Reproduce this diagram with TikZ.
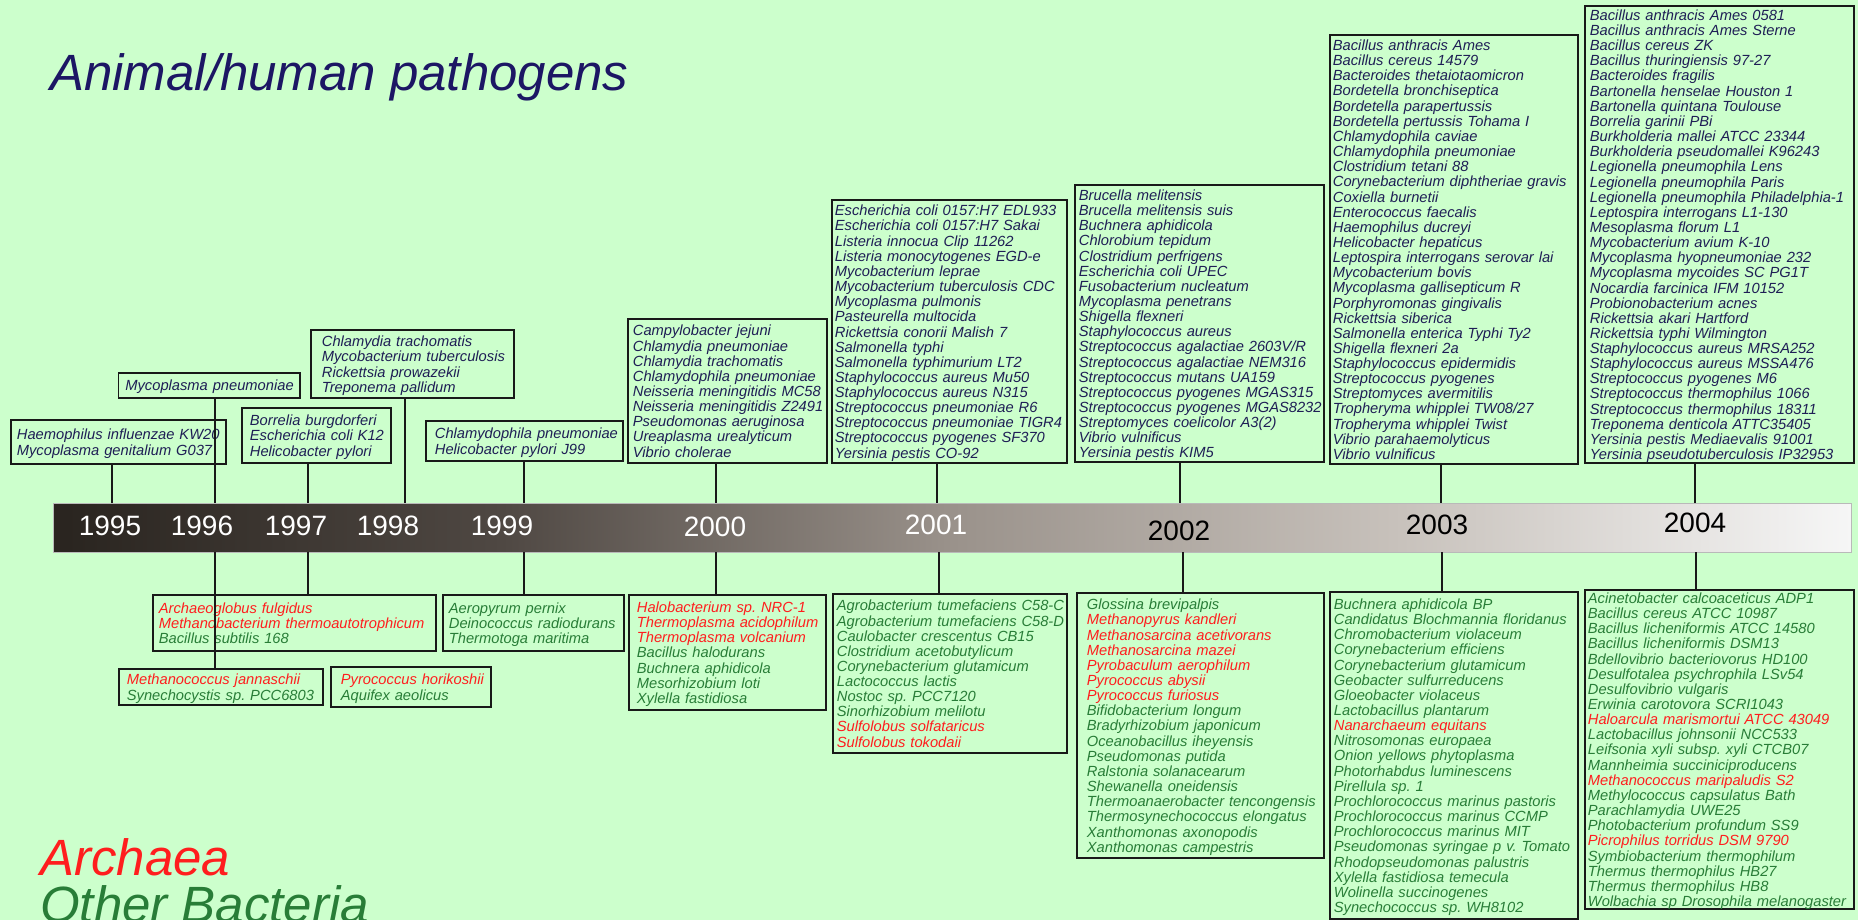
\documentclass[tikz,border=0pt]{standalone}
\usepackage{fontspec}
\setmainfont{Liberation Sans}
\definecolor{bg}{HTML}{CCFFCC}
\definecolor{navy}{RGB}{30,30,85}
\definecolor{titlenavy}{RGB}{28,22,100}
\definecolor{archred}{RGB}{255,30,30}
\definecolor{bactgreen}{RGB}{40,125,55}
\definecolor{bc0}{HTML}{29241F}
\definecolor{bc1}{HTML}{4F4843}
\definecolor{bc2}{HTML}{9A928B}
\definecolor{bc3}{HTML}{C8C2BC}
\definecolor{bc4}{HTML}{F6F6F6}
\pgfdeclarehorizontalshading{barshade}{100bp}{color(0bp)=(bc0); color(25bp)=(bc0); color(37.5bp)=(bc1); color(50bp)=(bc2); color(62.5bp)=(bc3); color(75bp)=(bc4); color(100bp)=(bc4)}
\newcommand\boxfont{\fontsize{14.7}{15}\selectfont\itshape\frenchspacing}
\newcommand\RA{\color{archred}}
\newcommand\gbx[8]{%
  \pgfmathsetmacro\gbxtw{#4-2*#6}%
  \node[gbox, text=#7, minimum width=#4pt, minimum height=#5pt, text width=\gbxtw pt, inner xsep=#6pt] (#1) at (#2,#3) {\raisebox{-2.5pt}[\height][\depth]{\begin{tabular}{@{}l@{}}#8\end{tabular}}};}
\begin{document}
\begin{tikzpicture}[x=1pt,y=-1pt,
  gbox/.style={draw=black!90, line width=1.8pt, fill=bg, anchor=north west, inner ysep=0pt, align=left, font=\boxfont},
  conn/.style={draw=black!90, line width=1.8pt},
  yr/.style={font=\fontsize{28}{30}\selectfont, inner sep=0pt},
  big/.style={font=\fontsize{51}{51}\selectfont\itshape, inner sep=0pt, anchor=base west}]
\fill[bg] (0,0) rectangle (1858,920);
\useasboundingbox (0,0) rectangle (1858,920);

\node[big, text=titlenavy] (title) at (50,91) {Animal/human pathogens};
\node[big, text=archred] (leg1) at (40,875) {Archaea};
\node[big, text=bactgreen] (leg2) at (40,922) {Other Bacteria};

% timeline bar
\node[shade, shading=barshade, draw=gray!55, line width=0.8pt, anchor=north west, minimum width=1798pt, minimum height=49pt, inner sep=0pt] (bar) at (53,503) {};

\node[yr, text=white] (l1995) at (110,526) {1995};
\node[yr, text=white] (l1996) at (202,526) {1996};
\node[yr, text=white] (l1997) at (296,526) {1997};
\node[yr, text=white] (l1998) at (388,526) {1998};
\node[yr, text=white] (l1999) at (502,526) {1999};
\node[yr, text=white] (l2000) at (715,527) {2000};
\node[yr, text=white] (l2001) at (936,525) {2001};
\node[yr, text=black] (l2002) at (1179,531) {2002};
\node[yr, text=black] (l2003) at (1437,525) {2003};
\node[yr, text=black] (l2004) at (1695,523) {2004};

% connector points on the bar
\coordinate (u1995) at (112,503);
\coordinate (u1996) at (215,503);
\coordinate (u1997) at (308,503);
\coordinate (u1998) at (405,503);
\coordinate (u1999) at (524,503);
\coordinate (u2000) at (716,503);
\coordinate (u2001) at (937,503);
\coordinate (u2002) at (1180,503);
\coordinate (u2003) at (1441,503);
\coordinate (u2004) at (1695,503);
\coordinate (d1996) at (215,552);
\coordinate (d1997) at (308,552);
\coordinate (d1999) at (524,552);
\coordinate (d2000) at (716,552);
\coordinate (d2001) at (939,552);
\coordinate (d2002) at (1183,552);
\coordinate (d2003) at (1442,552);
\coordinate (d2004) at (1696,552);

% pathogen boxes (top)
\gbx{b1995t}{10}{419}{215}{44}{6}{navy}{Haemophilus influenzae KW20\\Mycoplasma genitalium G037}
\gbx{b1996t}{117.5}{372}{181.5}{25}{7}{navy}{Mycoplasma pneumoniae}
\gbx{b1997t}{241}{407}{149}{55}{8}{navy}{Borrelia burgdorferi\\Escherichia coli K12\\Helicobacter pylori}
\gbx{b1998t}{310}{329}{203}{68}{11}{navy}{Chlamydia trachomatis\\Mycobacterium tuberculosis\\Rickettsia prowazekii\\Treponema pallidum}
\gbx{b1999t}{425}{420}{197}{40}{9}{navy}{Chlamydophila pneumoniae\\Helicobacter pylori J99}
\gbx{b2000t}{627}{318}{199}{144}{5}{navy}{Campylobacter jejuni\\Chlamydia pneumoniae\\Chlamydia trachomatis\\Chlamydophila pneumoniae\\Neisseria meningitidis MC58\\Neisseria meningitidis Z2491\\Pseudomonas aeruginosa\\Ureaplasma urealyticum\\Vibrio cholerae}
\gbx{b2001t}{831}{199}{235}{263}{3}{navy}{Escherichia coli 0157:H7 EDL933\\Escherichia coli 0157:H7 Sakai\\Listeria innocua Clip 11262\\Listeria monocytogenes EGD-e\\Mycobacterium leprae\\Mycobacterium tuberculosis CDC\\Mycoplasma pulmonis\\Pasteurella multocida\\Rickettsia conorii Malish 7\\Salmonella typhi\\Salmonella typhimurium  LT2\\Staphylococcus aureus Mu50\\Staphylococcus aureus N315\\Streptococcus pneumoniae R6\\Streptococcus pneumoniae TIGR4\\Streptococcus pyogenes SF370\\Yersinia pestis CO-92}
\gbx{b2002t}{1074}{184}{249}{277}{4}{navy}{Brucella melitensis\\Brucella melitensis suis\\Buchnera aphidicola\\Chlorobium tepidum\\Clostridium perfrigens\\Escherichia coli UPEC\\Fusobacterium nucleatum\\Mycoplasma penetrans\\Shigella flexneri\\Staphylococcus aureus\\Streptococcus agalactiae 2603V/R\\Streptococcus agalactiae NEM316\\Streptococcus mutans UA159\\Streptococcus pyogenes MGAS315\\Streptococcus pyogenes MGAS8232\\Streptomyces coelicolor  A3(2)\\Vibrio vulnificus\\Yersinia pestis KIM5}
\gbx{b2003t}{1329}{34}{248}{429}{3}{navy}{Bacillus anthracis Ames\\Bacillus cereus 14579\\Bacteroides thetaiotaomicron\\Bordetella bronchiseptica\\Bordetella parapertussis\\Bordetella pertussis  Tohama I\\Chlamydophila caviae\\Chlamydophila pneumoniae\\Clostridium tetani 88\\Corynebacterium diphtheriae gravis\\Coxiella burnetii\\Enterococcus faecalis\\Haemophilus ducreyi\\Helicobacter hepaticus\\Leptospira interrogans serovar lai\\Mycobacterium bovis\\Mycoplasma gallisepticum R\\Porphyromonas gingivalis\\Rickettsia siberica\\Salmonella enterica  Typhi Ty2\\Shigella flexneri 2a\\Staphylococcus epidermidis\\Streptococcus pyogenes\\Streptomyces avermitilis\\Tropheryma whipplei TW08/27\\Tropheryma whipplei Twist\\Vibrio parahaemolyticus\\Vibrio vulnificus}
\gbx{b2004t}{1584}{5}{269}{457}{5}{navy}{Bacillus anthracis Ames 0581\\Bacillus anthracis  Ames Sterne\\Bacillus cereus ZK\\Bacillus thuringiensis 97-27\\Bacteroides fragilis\\Bartonella henselae Houston 1\\Bartonella quintana Toulouse\\Borrelia garinii PBi\\Burkholderia mallei ATCC 23344\\Burkholderia pseudomallei K96243\\Legionella pneumophila Lens\\Legionella pneumophila Paris\\Legionella pneumophila Philadelphia-1\\Leptospira interrogans L1-130\\Mesoplasma florum L1\\Mycobacterium avium K-10\\Mycoplasma hyopneumoniae 232\\Mycoplasma mycoides SC PG1T\\Nocardia farcinica IFM 10152\\Probionobacterium acnes\\Rickettsia akari Hartford\\Rickettsia typhi Wilmington\\Staphylococcus aureus MRSA252\\Staphylococcus aureus MSSA476\\Streptococcus pyogenes M6\\Streptococcus thermophilus 1066\\Streptococcus thermophilus 18311\\Treponema denticola ATTC35405\\Yersinia pestis Mediaevalis 91001\\Yersinia pseudotuberculosis IP32953}

% archaea / other bacteria boxes (bottom)
\gbx{b1997b}{152}{594}{283}{56}{6}{bactgreen}{\RA Archaeoglobus fulgidus\\\RA Methanobacterium thermoautotrophicum\\Bacillus subtilis 168}
\gbx{b1996b}{118}{668}{204}{36}{8}{bactgreen}{\RA Methanococcus jannaschii\\Synechocystis sp. PCC6803}
\gbx{b1998b}{330}{666}{160}{40}{10}{bactgreen}{\RA Pyrococcus horikoshii\\Aquifex aeolicus}
\gbx{b1999b}{442}{594}{181}{56}{6}{bactgreen}{Aeropyrum pernix\\Deinococcus radiodurans\\Thermotoga maritima}
\gbx{b2000b}{628}{594}{197}{115}{8}{bactgreen}{\RA Halobacterium sp. NRC-1\\\RA Thermoplasma acidophilum\\\RA Thermoplasma volcanium\\Bacillus halodurans\\Buchnera aphidicola\\Mesorhizobium loti\\Xylella fastidiosa}
\gbx{b2001b}{832}{593}{234}{159}{4}{bactgreen}{Agrobacterium tumefaciens C58-C\\Agrobacterium tumefaciens C58-D\\Caulobacter crescentus CB15\\Clostridium acetobutylicum\\Corynebacterium glutamicum\\Lactococcus lactis\\Nostoc sp. PCC7120\\Sinorhizobium melilotu\\\RA Sulfolobus solfataricus\\\RA Sulfolobus tokodaii}
\gbx{b2002b}{1076}{592}{247}{265}{10}{bactgreen}{Glossina brevipalpis\\\RA Methanopyrus kandleri\\\RA Methanosarcina acetivorans\\\RA Methanosarcina mazei\\\RA Pyrobaculum aerophilum\\\RA Pyrococcus abysii\\\RA Pyrococcus furiosus\\Bifidobacterium longum\\Bradyrhizobium japonicum\\Oceanobacillus iheyensis\\Pseudomonas putida\\Ralstonia solanacearum\\Shewanella oneidensis\\Thermoanaerobacter tencongensis\\Thermosynechococcus elongatus\\Xanthomonas axonopodis\\Xanthomonas campestris}
\gbx{b2003b}{1329}{591}{248}{327}{4}{bactgreen}{Buchnera aphidicola BP\\Candidatus Blochmannia floridanus\\Chromobacterium violaceum\\Corynebacterium efficiens\\Corynebacterium glutamicum\\Geobacter sulfurreducens\\Gloeobacter violaceus\\Lactobacillus plantarum\\\RA Nanarchaeum equitans\\Nitrosomonas europaea\\Onion yellows phytoplasma\\Photorhabdus luminescens\\Pirellula sp. 1\\Prochlorococcus marinus  pastoris\\Prochlorococcus marinus CCMP\\Prochlorococcus marinus MIT\\Pseudomonas syringae p v. Tomato\\Rhodopseudomonas palustris\\Xylella fastidiosa temecula\\Wolinella succinogenes\\Synechococcus sp. WH8102}
\gbx{b2004b}{1584}{589}{269}{319}{3}{bactgreen}{Acinetobacter calcoaceticus ADP1\\Bacillus cereus ATCC 10987\\Bacillus licheniformis ATCC 14580\\Bacillus licheniformis DSM13\\Bdellovibrio bacteriovorus HD100\\Desulfotalea psychrophila LSv54\\Desulfovibrio vulgaris\\Erwinia carotovora SCRI1043\\\RA Haloarcula marismortui ATCC 43049\\Lactobacillus johnsonii NCC533\\Leifsonia xyli subsp. xyli CTCB07\\Mannheimia succiniciproducens\\\RA Methanococcus maripaludis S2\\Methylococcus capsulatus Bath\\Parachlamydia UWE25\\Photobacterium profundum SS9\\\RA Picrophilus torridus DSM 9790\\Symbiobacterium thermophilum\\Thermus thermophilus HB27\\Thermus thermophilus HB8\\Wolbachia sp Drosophila melanogaster}

% connectors
\draw[conn] (b1995t.south -| u1995) -- (u1995);
\draw[conn] (b1996t.south -| u1996) -- (u1996);
\draw[conn] (b1997t.south -| u1997) -- (u1997);
\draw[conn] (b1998t.south -| u1998) -- (u1998);
\draw[conn] (b1999t.south -| u1999) -- (u1999);
\draw[conn] (b2000t.south -| u2000) -- (u2000);
\draw[conn] (b2001t.south -| u2001) -- (u2001);
\draw[conn] (b2002t.south -| u2002) -- (u2002);
\draw[conn] (b2003t.south -| u2003) -- (u2003);
\draw[conn] (b2004t.south -| u2004) -- (u2004);
\draw[conn] (d1996) -- (d1996 |- b1996b.north);
\draw[conn] (d1997) -- (d1997 |- b1997b.north);
\draw[conn] (d1999) -- (d1999 |- b1999b.north);
\draw[conn] (d2000) -- (d2000 |- b2000b.north);
\draw[conn] (d2001) -- (d2001 |- b2001b.north);
\draw[conn] (d2002) -- (d2002 |- b2002b.north);
\draw[conn] (d2003) -- (d2003 |- b2003b.north);
\draw[conn] (d2004) -- (d2004 |- b2004b.north);
\end{tikzpicture}
\end{document}
